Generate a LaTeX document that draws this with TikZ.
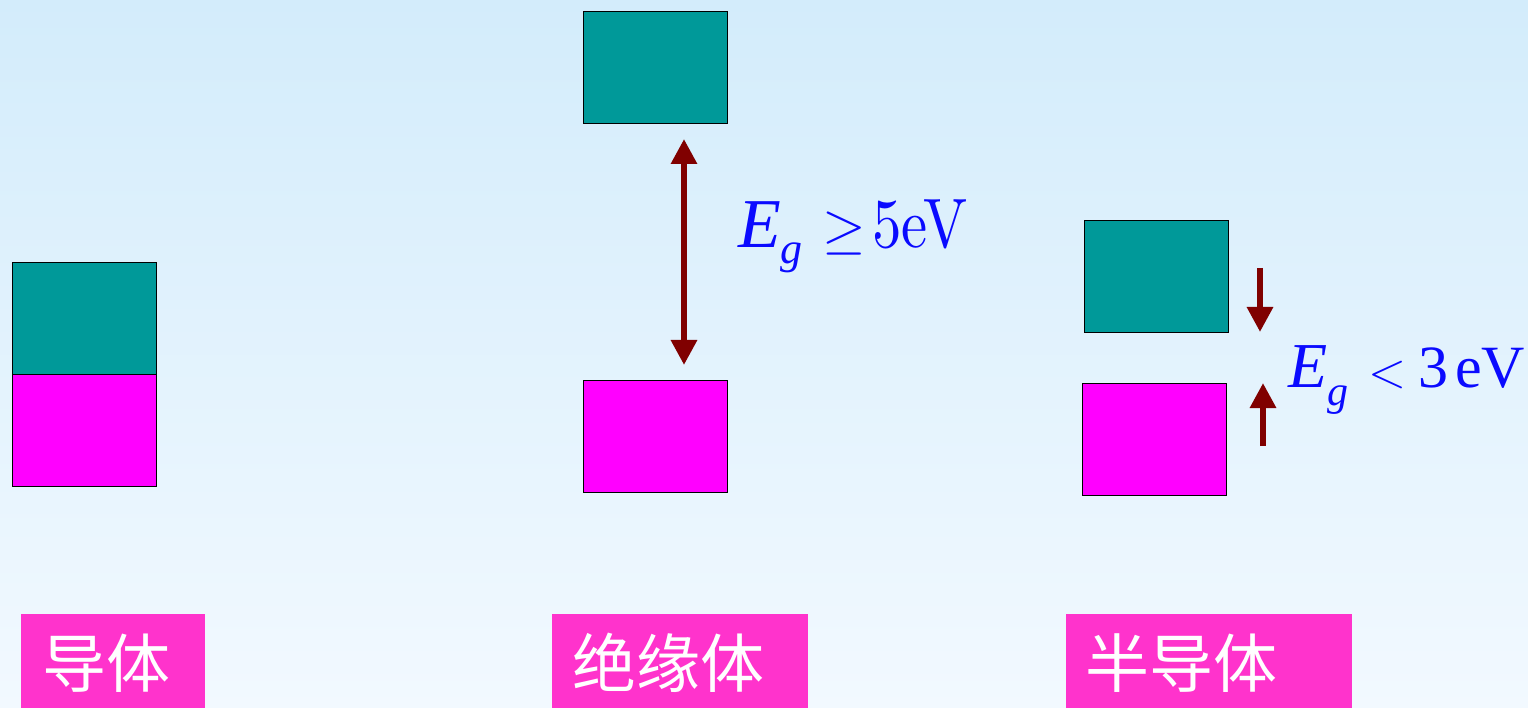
\documentclass[tikz,border=0pt]{standalone}
\usepackage{fix-cm}
\usepackage{fontspec}
\newfontfamily\cjk{Noto Sans CJK SC}
\newfontfamily\tms{Liberation Serif}
\newfontfamily\lmten{lmroman10-regular}[Extension=.otf]
\usetikzlibrary{arrows.meta}
\definecolor{bgtop}{HTML}{D3ECFB}
\definecolor{bgbot}{HTML}{F2F9FF}
\definecolor{cband}{HTML}{009999}
\definecolor{vband}{HTML}{FF00FF}
\definecolor{tagpink}{HTML}{FF33CC}
\definecolor{arrowred}{HTML}{800000}
\definecolor{txtblue}{HTML}{0A0AFF}
\begin{document}
\begin{tikzpicture}[x=1pt,y=-1pt,
  band/.style={draw=black,line width=1.3pt,minimum width=144pt,minimum height=112pt,inner sep=0pt,anchor=north west},
  cb/.style={band,fill=cband},
  vb/.style={band,fill=vband},
  tag/.style={fill=tagpink,inner sep=0pt,anchor=north west,minimum height=94pt},
  tagtext/.style={text=white,font=\cjk\fontsize{64}{72}\selectfont,anchor=west,inner sep=0pt},
  gaparrow/.style={draw=arrowred,line width=6pt,arrows={-Triangle[width=25pt,length=25pt]}},
  eglabel/.style={text=txtblue,anchor=base west,inner sep=0pt}]
\shade[top color=bgtop,bottom color=bgbot] (0,0) rectangle (1528,708);
\useasboundingbox (0,0) rectangle (1528,708);
% conductor
\node[cb] (c1) at (12,262) {};
\node[vb] (v1) at (12,374) {};
% insulator
\node[cb] (c2) at (583,11) {};
\node[vb] (v2) at (583,380) {};
\coordinate (i1) at (684,139);
\coordinate (i2) at (684,365);
\draw[gaparrow,arrows={Triangle[width=25pt,length=25pt]-Triangle[width=25pt,length=25pt]}] (i1) -- (i2);
\node[eglabel] (lab2) at (738,248) {\fontsize{70}{80}\selectfont\tms\textit{E}\raisebox{-16pt}{\fontsize{44}{50}\selectfont\textit{g}}\hspace{20pt}{\fontsize{56}{60}\selectfont$\geq$}\hspace{6pt}\scalebox{0.84}[1]{\lmten\fontsize{70}{80}\selectfont 5eV}};
% semiconductor
\node[cb] (c3) at (1084,220) {};
\node[vb] (v3) at (1082,383) {};
\coordinate (s1) at (1260,268);
\coordinate (s2) at (1260,332);
\coordinate (s3) at (1263,446);
\coordinate (s4) at (1263,383);
\draw[gaparrow] (s1) -- (s2);
\draw[gaparrow] (s3) -- (s4);
\node[eglabel] (lab3) at (1288,387) {\fontsize{64}{72}\selectfont\tms\textit{E}\raisebox{-18pt}{\fontsize{42}{50}\selectfont\textit{g}}\hspace{20pt}{\fontsize{50}{60}\selectfont$<$}\hspace{12pt}{\fontsize{60}{70}\selectfont 3\hspace{7pt}eV}};
% tags
\node[tag,minimum width=184pt] (t1) at (21,614) {};
\node[tagtext] (n1) at (42,663) {导体};
\node[tag,minimum width=256pt] (t2) at (552,614) {};
\node[tagtext] (n2) at (572,663) {绝缘体};
\node[tag,minimum width=286pt] (t3) at (1066,614) {};
\node[tagtext] (n3) at (1085,663) {半导体};
\end{tikzpicture}
\end{document}
